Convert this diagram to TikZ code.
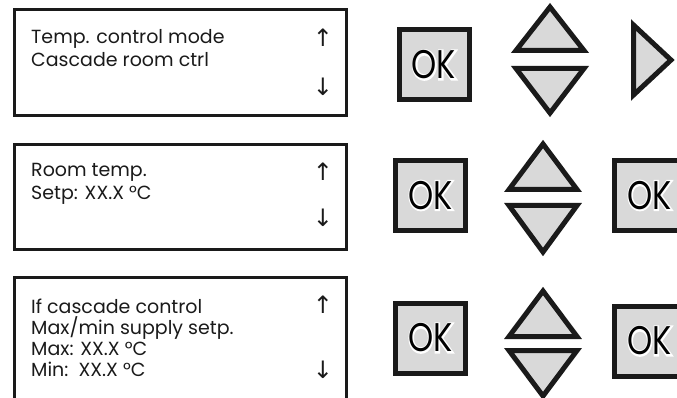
\documentclass[tikz,border=0pt]{standalone}
\usepackage{fontspec}
\setmainfont{Poppins}
\newfontfamily\arrowfont{DejaVu Sans}
\definecolor{keygray}{HTML}{D9D9D9}
\definecolor{inkdark}{HTML}{1A1A1A}
\newcommand{\oklabel}{\scalebox{0.8}[1]{\rlap{\textcolor{white}{\addfontfeature{FakeBold=8}OK}}OK}}

\begin{document}
\begin{tikzpicture}[x=1pt, y=-1pt,
    screen/.style={draw=inkdark, line width=2.6pt},
    screentext/.style={anchor=base west, align=left, inner sep=0pt,
                 font=\fontsize{19}{23}\selectfont, text=inkdark},
    scrollmark/.style={inner sep=0pt, font=\arrowfont\fontsize{24}{24}\selectfont, text=inkdark},
    okkey/.style={draw=inkdark, fill=keygray, line width=5pt, minimum width=70pt,
                 minimum height=70pt, inner sep=0pt, font=\fontsize{40}{40}\selectfont},
    arrowkey/.style={draw=inkdark, fill=keygray, line width=5pt, line join=miter}
]
    \useasboundingbox (0,0) rectangle (677,398);
    \clip (0,0) rectangle (677,398);

    % display windows (text anchored on last baseline)
    \draw[screen] (14.5,9.5)   rectangle (346.5,115.5);
    \draw[screen] (14.5,144.5) rectangle (346.5,249.5);
    \draw[screen] (14.5,277.5) rectangle (346.5,410);

    \node[screentext] (txt1) at (31,67)  {Temp. control mode\\Cascade room ctrl};
    \node[screentext] (txt2) at (31,200) {Room temp.\\Setp: XX.X °C};
    \node[screentext, font=\fontsize{19}{21}\selectfont]
                      (txt3) at (31,376) {If cascade control\\Max/min supply setp.\\Max: XX.X °C\\Min:\ \ XX.X °C};

    \node[scrollmark] (up1) at (323,37.5) {↑};
    \node[scrollmark] (dn1) at (323,86.5) {↓};
    \node[scrollmark] (up2) at (323,172)  {↑};
    \node[scrollmark] (dn2) at (323,218)  {↓};
    \node[scrollmark] (up3) at (323,305)  {↑};
    \node[scrollmark] (dn3) at (323,370)  {↓};

    % keys
    \node[okkey] (ok1)  at (434,65)      {\oklabel};
    \node[okkey] (ok2)  at (430.5,195.5) {\oklabel};
    \node[okkey] (ok3)  at (430.5,338)   {\oklabel};
    \node[okkey] (okr2) at (649.5,195.5) {\oklabel};
    \node[okkey] (okr3) at (649.5,341)   {\oklabel};

    \draw[arrowkey] (550,7)   -- (584,50.5)  -- (516,50.5)  -- cycle;
    \draw[arrowkey] (516,68.5) -- (584,68.5) -- (550,113)   -- cycle;
    \draw[arrowkey] (543,144) -- (577,189.5) -- (509,189.5) -- cycle;
    \draw[arrowkey] (509,205.5) -- (577,205.5) -- (543,252) -- cycle;
    \draw[arrowkey] (543,291) -- (577,336.5) -- (509,336.5) -- cycle;
    \draw[arrowkey] (509,350.5) -- (577,350.5) -- (543,396) -- cycle;

    \draw[arrowkey] (633.5,25) -- (671,60) -- (633.5,95) -- cycle;
\end{tikzpicture}
\end{document}
